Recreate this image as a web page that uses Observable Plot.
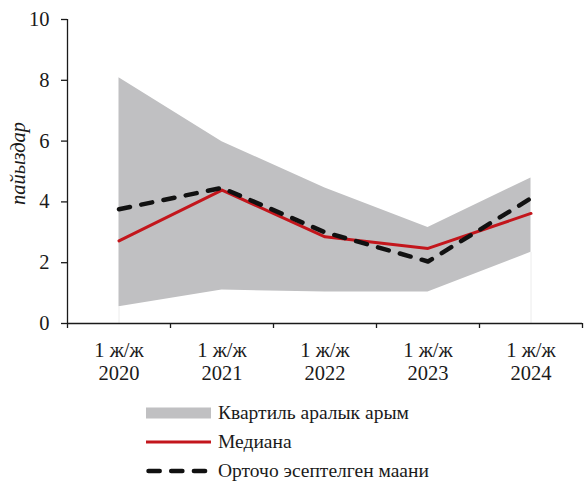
<!DOCTYPE html>
<html>
<head>
<meta charset="utf-8">
<script src="https://cdn.jsdelivr.net/npm/d3@7"></script>
<script src="https://cdn.jsdelivr.net/npm/@observablehq/plot@0.6"></script>
<style>
  body { margin: 0; background: #fff; }
  #wrap { position: relative; width: 587px; height: 481px; font-family: "Liberation Serif", "Times New Roman", serif; color: #1a1a1a; }
  #wrap svg text { font-family: "Liberation Serif", "Times New Roman", serif; }
  .leg { position: absolute; left: 146px; height: 28px; display: flex; align-items: center; font-size: 19.5px; white-space: nowrap; }
  .leg svg { margin-right: 7px; }
</style>
</head>
<body>
<div id="wrap"></div>
<script>
// Period labels along the horizontal axis
const years = ["2020", "2021", "2022", "2023", "2024"];
const periodPrefix = "1 ж/ж";
// Interquartile range bounds, percent
const upperQuartile = [8.08, 5.98, 4.46, 3.16, 4.79];
const lowerQuartile = [0.55, 1.10, 1.04, 1.04, 2.34];
// Median and weighted average, percent
const medianValues = [2.72, 4.39, 2.85, 2.47, 3.62];
const meanValues = [3.76, 4.46, 3.00, 2.04, 4.12];
// Vertical axis ticks and title
const yTicks = [0, 2, 4, 6, 8, 10];
const yTitle = "пайыздар";
// Legend entries
const legendLabels = ["Квартиль аралык арым", "Медиана", "Орточо эсептелген маани"];

const rows = years.map((year, i) => ({
  i, year,
  lo: lowerQuartile[i], hi: upperQuartile[i],
  med: medianValues[i], mean: meanValues[i]
}));
const edges = rows.filter(d => d.i === 0 || d.i === rows.length - 1);
const boundaries = d3.range(-0.5, years.length, 1);

const font = '"Liberation Serif", "Times New Roman", serif';

const chart = Plot.plot({
  width: 587,
  height: 390,
  marginLeft: 67,
  marginRight: 5,
  marginTop: 19,
  marginBottom: 67,
  style: { fontFamily: font, fontSize: "19.5px", color: "#1a1a1a", background: "#fff" },
  x: { domain: [-0.5, years.length - 0.5] },
  y: { domain: [0, 10] },
  marks: [
    Plot.areaY(rows, { x: "i", y1: "lo", y2: "hi", fill: "#c0c0c2" }),
    Plot.ruleX(edges, { x: "i", y1: 0, y2: "lo", stroke: "#ececec", strokeWidth: 1 }),
    Plot.line(rows, { x: "i", y: "med", stroke: "#c3161c", strokeWidth: 3 }),
    Plot.line(rows, { x: "i", y: "mean", stroke: "#111", strokeWidth: 4.5,
                      strokeDasharray: "11.2,11.5", strokeLinecap: "round" }),
    Plot.ruleX([-0.5], { stroke: "#1a1a1a", strokeWidth: 1.3 }),
    Plot.ruleY([0], { stroke: "#1a1a1a", strokeWidth: 1.3 }),
    Plot.axisY({ ticks: yTicks, tickSize: 6, tickPadding: 12, label: null, fontSize: 20.5,
                 fontFamily: font, strokeWidth: 1.3 }),
    Plot.axisX({ ticks: boundaries, tickSize: 5, tickFormat: () => "", label: null, strokeWidth: 1.3 }),
    Plot.axisX({ ticks: d3.range(years.length), tickSize: 0, tickPadding: 17.5, lineHeight: 1.1,
                 tickFormat: i => `${periodPrefix}\n${years[i]}`, label: null, fontSize: 20.5, fontFamily: font }),
    Plot.text([yTitle], { frameAnchor: "left", textAnchor: "middle", rotate: -90, dx: -49, dy: -8,
                          fontStyle: "italic", fontSize: 20.5, fontFamily: font, fill: "#1a1a1a" })
  ]
});

const wrap = document.getElementById("wrap");
wrap.appendChild(chart);

// Legend below the chart
const swatches = [
  '<svg width="65" height="12"><rect x="0" y="0.5" width="65" height="11" fill="#c0c0c2"/></svg>',
  '<svg width="65" height="12"><line x1="0" x2="65" y1="6" y2="6" stroke="#c3161c" stroke-width="3"/></svg>',
  '<svg width="65" height="12"><line x1="2.5" x2="65" y1="6" y2="6" stroke="#111" stroke-width="4.5" stroke-dasharray="11.2,11.5" stroke-linecap="round"/></svg>'
];
const tops = [399, 428, 457];
legendLabels.forEach((label, k) => {
  const item = document.createElement("div");
  item.className = "leg";
  item.style.top = tops[k] + "px";
  item.innerHTML = swatches[k] + "<span>" + label + "</span>";
  wrap.appendChild(item);
});
</script>
</body>
</html>
